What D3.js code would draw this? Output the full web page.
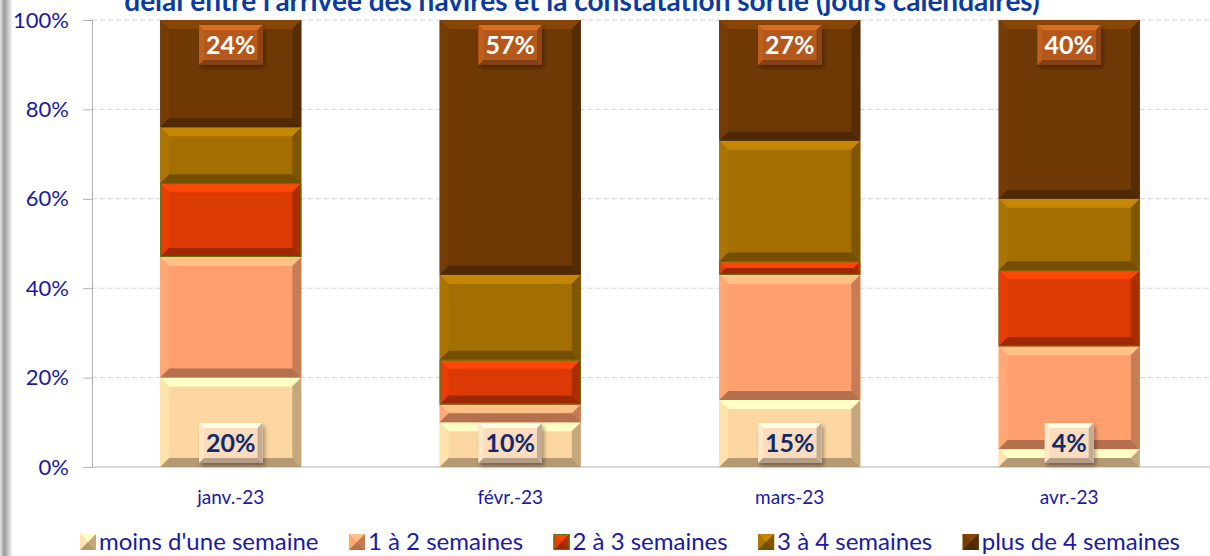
<!DOCTYPE html>
<html>
<head>
<meta charset="utf-8">
<script src="https://cdn.jsdelivr.net/npm/d3@7.9.0/dist/d3.min.js"></script>
<style>
  body { margin: 0; background: #fff; }
  svg { display: block; font-family: Lato, "Open Sans", sans-serif; }
</style>
</head>
<body>
<svg id="chart" width="1210" height="556"></svg>
<script>
const months = ['janv.-23', 'févr.-23', 'mars-23', 'avr.-23'];
const seriesNames = ['moins d\'une semaine', '1 à 2 semaines', '2 à 3 semaines', '3 à 4 semaines', 'plus de 4 semaines'];
const moinsUneSemaine = [20, 10, 15, 4];
const unADeux = [27, 4, 28, 23];
const deuxATrois = [16.5, 10, 3, 17];
const troisAQuatre = [12.5, 19, 27, 16];
const plusDeQuatre = [24, 57, 27, 40];
const yTicks = [0, 0.2, 0.4, 0.6, 0.8, 1];
const title = 'délai entre l\'arrivée des navires et la constatation sortie (jours calendaires)';

const colors = ['#fdd7a2', '#fe9f6d', '#dc3a04', '#a36f03', '#6f3906'];
const outlines = [null, null, '#5a7a10', null, null];

const allSeries = [moinsUneSemaine, unADeux, deuxATrois, troisAQuatre, plusDeQuatre];
const rows = months.map((m, i) => {
  const r = { month: m };
  seriesNames.forEach((s, k) => { r[s] = allSeries[k][i] / 100; });
  return r;
});

const svg = d3.select('#chart');

// frame edge on the left
const defs = svg.append('defs');
const grad = defs.append('linearGradient').attr('id', 'edge');
grad.append('stop').attr('offset', '0%').attr('stop-color', '#e8e8e8');
grad.append('stop').attr('offset', '35%').attr('stop-color', '#9a9a9a');
grad.append('stop').attr('offset', '100%').attr('stop-color', '#f4f4f4');
const shadow = defs.append('filter').attr('id', 'shadow')
  .attr('x', '-30%').attr('y', '-30%').attr('width', '160%').attr('height', '160%');
shadow.append('feDropShadow').attr('dx', 2).attr('dy', 3).attr('stdDeviation', 2)
  .attr('flood-color', '#000').attr('flood-opacity', 0.35);

svg.append('rect').attr('x', 0).attr('y', 0).attr('width', 12).attr('height', 556).attr('fill', 'url(#edge)');

const x = d3.scaleBand().domain(months).range([91, 1209]).paddingInner(0.495).paddingOuter(0.2475);
const y = d3.scaleLinear().domain([0, 1]).range([467, 20]);

// grid
svg.append('g').selectAll('line').data(yTicks.filter(d => d > 0)).join('line')
  .attr('x1', 92).attr('x2', 1210)
  .attr('y1', d => y(d)).attr('y2', d => y(d))
  .attr('stroke', '#d4d4d4').attr('stroke-dasharray', '5,3');

// y axis
const yAxis = svg.append('g').attr('transform', 'translate(92,0)')
  .call(d3.axisLeft(y).tickValues(yTicks).tickFormat(d3.format('.0%')).tickSize(9).tickPadding(14));
yAxis.select('.domain').attr('stroke', '#b0b0b0');
yAxis.selectAll('.tick line').attr('stroke', '#b0b0b0');
yAxis.selectAll('text').attr('fill', '#1a1aa6').attr('font-size', 22).attr('font-family', 'Lato, sans-serif');

// x axis
svg.append('line').attr('x1', 92).attr('x2', 1210).attr('y1', y(0)).attr('y2', y(0)).attr('stroke', '#b0b0b0');
svg.append('g').selectAll('text').data(months).join('text')
  .attr('x', d => x(d) + x.bandwidth() / 2).attr('y', 504)
  .attr('text-anchor', 'middle').attr('font-size', 19).attr('fill', '#1a1aa6')
  .text(d => d);

function bevel(g, x0, y0, w, h, color, size, outline) {
  const b = Math.min(size, h / 2, w / 2);
  const c = d3.color(color);
  const x1 = x0 + w, y1 = y0 + h;
  g.append('rect').attr('x', x0).attr('y', y0).attr('width', w).attr('height', h).attr('fill', color);
  const faces = [
    [[x0, y0], [x1, y0], [x1 - b, y0 + b], [x0 + b, y0 + b], c.brighter(0.55)],
    [[x0, y0], [x0 + b, y0 + b], [x0 + b, y1 - b], [x0, y1], c.brighter(0.15)],
    [[x1, y0], [x1, y1], [x1 - b, y1 - b], [x1 - b, y0 + b], c.darker(0.7)],
    [[x0, y1], [x0 + b, y1 - b], [x1 - b, y1 - b], [x1, y1], c.darker(0.95)]
  ];
  g.selectAll(null).data(faces).enter().append('path')
    .attr('d', f => 'M' + f.slice(0, 4).map(p => p.join(',')).join('L') + 'Z')
    .attr('fill', f => f[4].formatHex());
  if (outline) {
    g.append('rect').attr('x', x0 + 0.5).attr('y', y0 + 0.5).attr('width', w - 1).attr('height', h - 1)
      .attr('fill', 'none').attr('stroke', outline).attr('stroke-width', 1);
  }
}

// bars
const stacked = d3.stack().keys(seriesNames)(rows);
const bars = svg.append('g');
stacked.forEach((layer, k) => {
  layer.forEach(seg => {
    const g = bars.append('g');
    const top = y(seg[1]), bottom = y(seg[0]);
    bevel(g, x(seg.data.month), top, x.bandwidth(), bottom - top, colors[k], 9, outlines[k]);
  });
});

// value labels
function labelBox(cx, cy, text, fill, textColor) {
  const g = svg.append('g');
  const t = g.append('text').attr('x', cx).attr('y', cy + 9).attr('text-anchor', 'middle')
    .attr('font-size', 25).attr('font-weight', 'bold').attr('fill', textColor).text(text);
  const w = t.node().getComputedTextLength() + 14;
  const box = g.insert('g', 'text').attr('filter', 'url(#shadow)');
  bevel(box, cx - w / 2, cy - 20, w, 40, fill, 5);
}
months.forEach((m, i) => {
  const cx = x(m) + x.bandwidth() / 2;
  labelBox(cx, 443, Math.round(moinsUneSemaine[i]) + '%', '#fbdcbd', '#102a6e');
  labelBox(cx, 45, Math.round(plusDeQuatre[i]) + '%', '#b5591b', '#ffffff');
});

// title (clipped at the top like the original)
svg.append('text').attr('x', 582).attr('y', 11).attr('text-anchor', 'middle')
  .attr('font-size', 28).attr('font-weight', 'bold').attr('fill', '#0b3aa0').text(title);

// legend, spread between x=80 and x=1180
const legend = svg.append('g');
const items = seriesNames.map((s, k) => {
  const item = legend.append('g');
  const sw = item.append('g');
  const t = item.append('text').attr('y', 550).attr('font-size', 24).attr('fill', '#1a1aa6').text(s);
  return { item, sw, t, k, w: t.node().getComputedTextLength() };
});
const totalW = d3.sum(items, d => d.w + 19);
const gap = (1180 - 80 - totalW) / (items.length - 1);
let lx = 80;
items.forEach(d => {
  bevel(d.sw, lx, 534, 16, 16, colors[d.k], 8, outlines[d.k]);
  d.t.attr('x', lx + 19);
  lx += 19 + d.w + gap;
});
</script>
</body>
</html>
